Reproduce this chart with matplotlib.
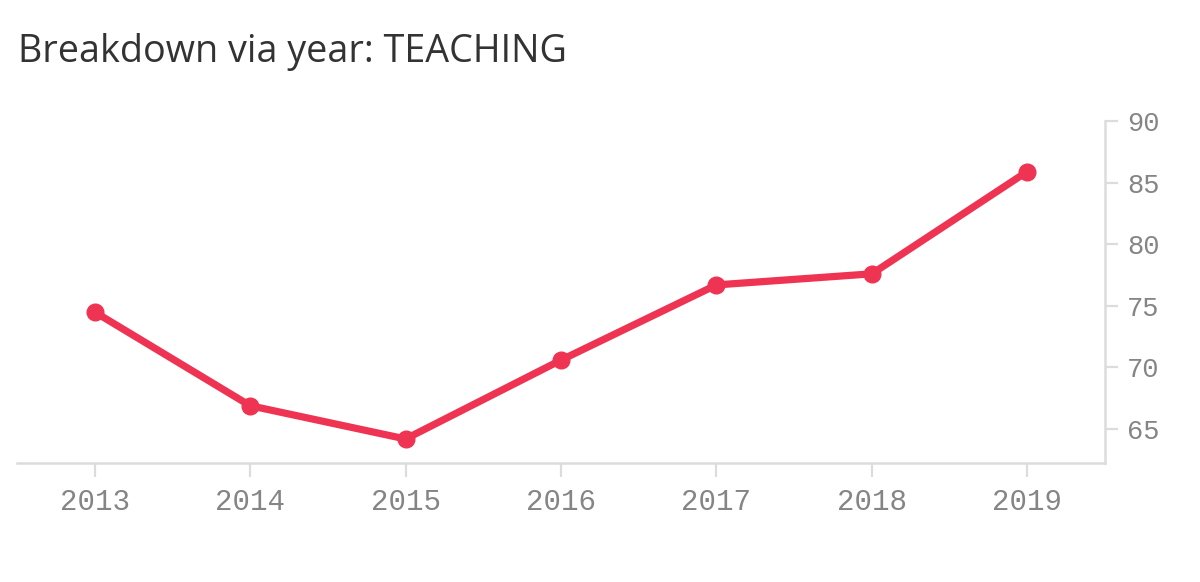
import matplotlib
matplotlib.use("Agg")
import matplotlib.pyplot as plt

years = [2013, 2014, 2015, 2016, 2017, 2018, 2019]
values = [74.5, 66.9, 64.2, 70.6, 76.7, 77.6, 85.9]
y_ticks = [65, 70, 75, 80, 85, 90]
title = "Breakdown via year: TEACHING"

line_color = "#ef3352"
axis_color = "#dcdcdc"
label_color = "#858585"

fig = plt.figure(figsize=(12, 5.82), dpi=100)
ax = fig.add_axes([17/1200, 1-463/582, (1105-17)/1200, (463-121)/582])

ax.plot(years, values, color=line_color, linewidth=5.2, marker="o",
        markersize=12, solid_capstyle="round", solid_joinstyle="round", zorder=3)

ax.set_xlim(2012.5, 2019.5)
ax.set_ylim(62.25, 90)
ax.set_xticks(years)
ax.set_xticklabels([str(y) for y in years])
ax.set_yticks(y_ticks)
ax.set_yticklabels([str(t) for t in y_ticks])

ax.yaxis.tick_right()
for s in ["top", "left"]:
    ax.spines[s].set_visible(False)
for s in ["bottom", "right"]:
    ax.spines[s].set_color(axis_color)
    ax.spines[s].set_linewidth(1.8)

ax.tick_params(axis="x", direction="out", length=10, width=1.6, color=axis_color,
               labelcolor=label_color, labelsize=21, pad=8)
ax.tick_params(axis="y", direction="out", length=9, width=1.6, color=axis_color,
               labelcolor=label_color, labelsize=19.5, pad=7)
for lab in ax.get_xticklabels() + ax.get_yticklabels():
    lab.set_family("Liberation Mono")

fig.text(18/1200, 1-62/582, title, fontsize=27.2, color="#333333",
         family="Open Sans", ha="left", va="baseline")

fig.savefig("out.png", dpi=100, facecolor="white")
